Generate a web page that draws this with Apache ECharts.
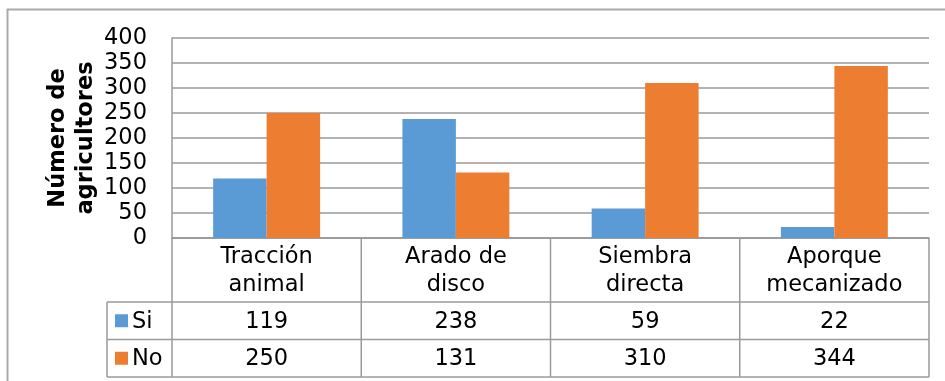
<!DOCTYPE html>
<html>
<head>
<meta charset="utf-8">
<script src="https://cdn.jsdelivr.net/npm/echarts@6/dist/echarts.min.js"></script>
<style>
  html, body { margin: 0; padding: 0; background: #fff; }
  #chart { width: 945px; height: 381px; }
</style>
</head>
<body>
<div id="chart"></div>
<script>
// Practices surveyed and the number of farmers answering yes / no
const categories = ['Tracción\nanimal', 'Arado de\ndisco', 'Siembra\ndirecta', 'Aporque\nmecanizado'];
const seriesNames = ['Si', 'No'];
const siValues = [119, 238, 59, 22];
const noValues = [250, 131, 310, 344];
const yTicks = { min: 0, max: 400, interval: 50 };
const yTitle = 'Número de\nagricultores';
const colors = ['#5B9BD5', '#ED7D31'];

const FONT = 'DejaVu Sans';
const LINE = '#9a9a9a';
const FS = 22.5;

const chart = echarts.init(document.getElementById('chart'), null, { renderer: 'canvas' });

chart.setOption({
  animation: false,
  backgroundColor: '#fff',
  textStyle: { fontFamily: FONT },
  grid: { left: 172, right: 16, top: 38, bottom: 143, containLabel: false },
  xAxis: {
    type: 'category',
    data: categories,
    axisLine: { show: true, lineStyle: { color: LINE, width: 1.5 } },
    axisTick: { show: false },
    axisLabel: { show: false }
  },
  yAxis: {
    type: 'value',
    min: yTicks.min, max: yTicks.max, interval: yTicks.interval,
    axisLine: { show: true, lineStyle: { color: LINE, width: 1.5 } },
    axisTick: { show: false },
    axisLabel: { fontFamily: FONT, fontSize: FS, color: '#000', margin: 25 },
    splitLine: { lineStyle: { color: LINE, width: 1.5 } }
  },
  series: [
    { name: seriesNames[0], type: 'bar', data: siValues, itemStyle: { color: colors[0] }, barGap: '0%', barCategoryGap: '43.5%' },
    { name: seriesNames[1], type: 'bar', data: noValues, itemStyle: { color: colors[1] }, barGap: '0%', barCategoryGap: '43.5%' }
  ]
});

// Axis title plus the data table underneath the plot, aligned to the category axis
function drawTable() {
  const g = [];
  const x0 = chart.convertToPixel({ xAxisIndex: 0 }, 0);
  const x1 = chart.convertToPixel({ xAxisIndex: 0 }, 1);
  const band = x1 - x0;
  const left = x0 - band / 2;
  const right = left + band * categories.length;
  const top = chart.convertToPixel({ yAxisIndex: 0 }, yTicks.min);
  const plotTop = chart.convertToPixel({ yAxisIndex: 0 }, yTicks.max);
  const rowHeader = 64, row = 37.5;
  const yHead = top + rowHeader;
  const yRow1 = yHead + row;
  const yRow2 = yRow1 + row;
  const legendLeft = 107;
  const ls = { stroke: LINE, lineWidth: 1.5 };

  // outer chart frame
  g.push({ type: 'polyline', shape: { points: [[7.5, 390], [7.5, 9.5], [950, 9.5]] }, style: { stroke: '#aaaaaa', lineWidth: 2, fill: null } });

  // rotated value-axis title
  g.push({
    type: 'text', x: 72, y: (top + plotTop) / 2, rotation: Math.PI / 2,
    style: { text: yTitle, fontFamily: FONT, fontWeight: 'bold', fontSize: FS, fill: '#000', align: 'center', verticalAlign: 'middle', lineHeight: 28 }
  });

  // horizontal rules
  g.push({ type: 'line', shape: { x1: left, y1: top, x2: right, y2: top }, style: ls });
  g.push({ type: 'line', shape: { x1: legendLeft, y1: yHead, x2: right, y2: yHead }, style: ls });
  g.push({ type: 'line', shape: { x1: legendLeft, y1: yRow1, x2: right, y2: yRow1 }, style: ls });
  g.push({ type: 'line', shape: { x1: legendLeft, y1: yRow2, x2: right, y2: yRow2 }, style: ls });
  // vertical rules
  for (let i = 0; i <= categories.length; i++) {
    const x = left + band * i;
    g.push({ type: 'line', shape: { x1: x, y1: top, x2: x, y2: yRow2 }, style: ls });
  }
  g.push({ type: 'line', shape: { x1: legendLeft, y1: yHead, x2: legendLeft, y2: yRow2 }, style: ls });

  const txt = (x, y, text, align) => ({
    type: 'text', x: x, y: y,
    style: { text: text, fontFamily: FONT, fontSize: FS, fill: '#000', align: align || 'center', verticalAlign: 'middle', lineHeight: 28 }
  });

  categories.forEach((c, i) => {
    const cx = chart.convertToPixel({ xAxisIndex: 0 }, i);
    g.push(txt(cx, top + rowHeader / 2 + 1, c));
    g.push(txt(cx, yHead + row / 2 + 1, String(siValues[i])));
    g.push(txt(cx, yRow1 + row / 2 + 1, String(noValues[i])));
  });

  // legend keys inside the table
  [siValues, noValues].forEach((_, k) => {
    const yc = yHead + row * k + row / 2;
    g.push({ type: 'rect', shape: { x: 115, y: yc - 6.5, width: 13, height: 13 }, style: { fill: colors[k] } });
    g.push(txt(132, yc + 1, seriesNames[k], 'left'));
  });

  chart.setOption({ graphic: { elements: g } });
}
drawTable();
</script>
</body>
</html>
